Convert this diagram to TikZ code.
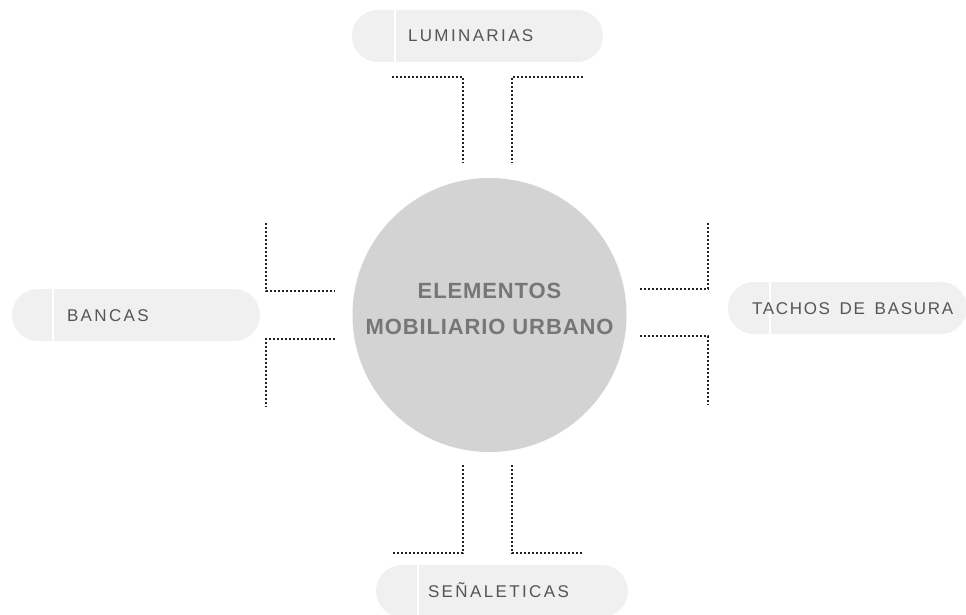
\documentclass[tikz,border=0pt]{standalone}
\usepackage{fontspec}
\setmainfont{Liberation Sans}
\newfontfamily\etiqfont[LetterSpace=14]{Liberation Sans}
\newfontfamily\titfont[LetterSpace=4]{Liberation Sans}
\usepackage{tikz}
\usetikzlibrary{calc, positioning}
\definecolor{circgris}{HTML}{D3D3D3}
\definecolor{pilgris}{HTML}{F0F0F0}
\definecolor{textgris}{HTML}{555555}
\definecolor{titgris}{HTML}{767676}
\definecolor{puntgris}{HTML}{222222}
\tikzstyle{pill} = [fill=pilgris, rounded corners=26pt, minimum height=52pt, inner ysep=0pt,
	align=left, text height=12pt, text depth=0pt, text=textgris, font=\etiqfont\fontsize{17}{20}\selectfont]
\tikzstyle{corte} = [path picture={\draw[white, line width=1.6pt]
	($(path picture bounding box.north west)+(#1,0)$) -- ($(path picture bounding box.south west)+(#1,0)$);}]
\tikzstyle{puntos} = [draw=puntgris, line width=1.9pt, dash pattern=on 1.7pt off 2.3pt]

\begin{document}
\begin{tikzpicture}[x=1pt, y=-1pt]
	\useasboundingbox (0,0) rectangle (966,615);
	\node[circle, fill=circgris, minimum size=274pt, inner sep=0pt] (centro) at (489.5,315) {};
	\node[align=center, text=titgris, font=\titfont\bfseries\fontsize{22}{36}\selectfont] (titulo)
		at (centro) [yshift=6.5pt] {ELEMENTOS\\MOBILIARIO URBANO};
	
	\node[pill, corte=43, text width=139pt, inner xsep=56pt] (lum) at (477.5,36) {LUMINARIAS};
	\node[pill, corte=41, text width=138pt, inner xsep=55pt] (ban) at (136,315) {BANCAS};
	\node[pill, corte=42, text width=191pt, inner xsep=24pt] (tac) at (847.5,308)
		{\mbox{\addfontfeatures{LetterSpace=10}TACHOS\hspace{4pt} DE\hspace{4pt} BASURA}};
	\node[pill, corte=42, text width=148pt, inner xsep=52pt] (sen) at (502,591) {SEÑALETICAS};
	
	\draw[puntos] (392,77) -| (463,163);
	\draw[puntos] (583,77) -| (512,163);
	\draw[puntos] (266,223) |- (335,291);
	\draw[puntos] (335,339) -| (266,407);
	\draw[puntos] (640,289) -| (708,222);
	\draw[puntos] (640,336) -| (708,405);
	\draw[puntos] (463,465) |- (392,553);
	\draw[puntos] (512,465) |- (583,553);
\end{tikzpicture}
\end{document}
